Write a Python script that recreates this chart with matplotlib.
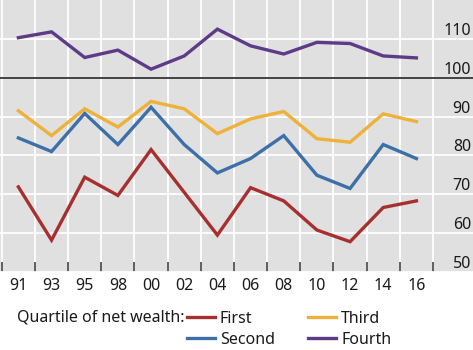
import matplotlib
matplotlib.use('Agg')
import matplotlib.pyplot as plt
import numpy as np

plt.rcParams['font.family'] = ['Noto Sans', 'DejaVu Sans']

years = ['91', '93', '95', '98', '00', '02', '04', '06', '08', '10', '12', '14', '16']
first = [71.9, 58.2, 74.4, 69.7, 81.5, 70.5, 59.5, 71.7, 68.3, 60.8, 57.8, 66.6, 68.3]
second = [84.5, 81.0, 90.8, 82.8, 92.4, 82.8, 75.5, 79.2, 85.1, 74.9, 71.5, 82.8, 79.2]
third = [91.5, 85.1, 92.0, 87.3, 93.9, 92.0, 85.6, 89.4, 91.3, 84.3, 83.4, 90.7, 88.7]
fourth = [110.3, 111.8, 105.2, 107.1, 102.2, 105.6, 112.5, 108.2, 106.1, 109.1, 108.8, 105.6, 105.1]
yticks = [50, 60, 70, 80, 90, 100, 110]

colors = {'First': '#a6302f', 'Second': '#3d6fa8', 'Third': '#eeb13a', 'Fourth': '#5e3b87'}

fig = plt.figure(figsize=(4.73, 3.5), dpi=100)
ax = fig.add_axes([0, 1 - 272 / 350, 1, 272 / 350])
ax.set_facecolor('#e0e0e0')

x = np.arange(len(years))
lines = {}
for name, vals in [('First', first), ('Second', second), ('Third', third), ('Fourth', fourth)]:
    lines[name], = ax.plot(x, vals, color=colors[name], lw=2.4, solid_joinstyle='miter', zorder=3)

ax.axhline(100, color='#333333', lw=1.3, zorder=2)

ax.set_xlim(-0.554, 13.706)
ax.set_ylim(50, 120)

ax.set_xticks(x)
ax.set_xticklabels(years)
ax.set_xticks(np.arange(-0.5, len(years)), minor=True)
ax.tick_params(axis='x', which='major', length=0, pad=4.5, labelsize=11.5, colors='#1a1a1a')
ax.tick_params(axis='x', which='minor', direction='in', length=7, width=1.2, color='#444444')

ax.set_yticks(yticks)
ax.yaxis.tick_right()
ax.tick_params(axis='y', length=0, pad=-1.5, labelsize=11.5, colors='#1a1a1a')
for lab in ax.get_yticklabels():
    lab.set_ha('right')
    lab.set_va('bottom')

ax.grid(True, axis='y', color='white', lw=1.3, zorder=1)
ax.grid(True, axis='x', which='minor', color='white', lw=1.3, zorder=1)
ax.set_axisbelow(True)
for s in ax.spines.values():
    s.set_visible(False)

fig.text(17 / 473, 1 - 318 / 350, 'Quartile of net wealth:', fontsize=11.5, va='center', color='#1a1a1a')
fig.legend([lines['First'], lines['Second'], lines['Third'], lines['Fourth']],
           ['First', 'Second', 'Third', 'Fourth'], ncol=2, loc='upper left',
           bbox_to_anchor=(187 / 473, 1 - 311 / 350), frameon=False, borderpad=0,
           borderaxespad=0, handlelength=1.75, handletextpad=0.3, columnspacing=2.1,
           labelspacing=0.3, fontsize=11.5, labelcolor='#1a1a1a')

fig.savefig('out.png', dpi=100)
